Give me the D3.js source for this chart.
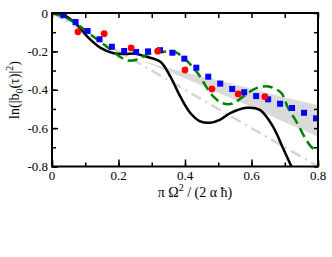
<!DOCTYPE html>
<html>
<head>
<meta charset="utf-8">
<script src="https://cdn.jsdelivr.net/npm/d3@7"></script>
<style>
  body { margin: 0; background: #fff; }
  svg { display: block; }
  text { font-family: "Liberation Serif", "Times New Roman", serif; fill: #000; }
</style>
</head>
<body>
<div id="chart"></div>
<script>
// x ticks / y ticks
var xTicks = [0, 0.2, 0.4, 0.6, 0.8];
var yTicks = [0, -0.2, -0.4, -0.6, -0.8];
var xTickLabels = ['0', '0.2', '0.4', '0.6', '0.8'];
var yTickLabels = ['0', '-0.2', '-0.4', '-0.6', '-0.8'];

// blue squares
var blueX = [0.035, 0.071, 0.107, 0.143, 0.180, 0.217, 0.253, 0.289, 0.325, 0.362, 0.398,
             0.434, 0.470, 0.506, 0.542, 0.578, 0.614, 0.650, 0.686, 0.722, 0.758, 0.794];
var blueY = [-0.012, -0.047, -0.094, -0.137, -0.176, -0.198, -0.203, -0.200, -0.194, -0.207, -0.238,
             -0.285, -0.332, -0.368, -0.396, -0.413, -0.433, -0.450, -0.473, -0.495, -0.520, -0.549];

// red circles
var redX = [0.078, 0.157, 0.238, 0.318, 0.400, 0.481, 0.560, 0.640];
var redY = [-0.098, -0.108, -0.182, -0.199, -0.297, -0.396, -0.422, -0.436];

// black solid curve
var blackX = [0, 0.035, 0.076, 0.11, 0.146, 0.185, 0.22, 0.25, 0.28, 0.326, 0.356, 0.386,
              0.416, 0.446, 0.476, 0.506, 0.536, 0.585, 0.625, 0.665, 0.695, 0.72];
var blackY = [0, -0.010, -0.063, -0.130, -0.182, -0.210, -0.214, -0.212, -0.226, -0.254, -0.332, -0.436,
              -0.521, -0.565, -0.572, -0.556, -0.522, -0.494, -0.505, -0.593, -0.705, -0.80];

// green dashed curve
var greenX = [0, 0.045, 0.085, 0.125, 0.165, 0.205, 0.23, 0.256, 0.29, 0.33, 0.37, 0.395, 0.425, 0.445,
              0.466, 0.485, 0.51, 0.54, 0.575, 0.605, 0.635, 0.66, 0.69, 0.71, 0.735, 0.755, 0.776, 0.797];
var greenY = [0, -0.028, -0.071, -0.124, -0.176, -0.229, -0.248, -0.242, -0.214, -0.203, -0.203, -0.232, -0.285, -0.33,
              -0.39, -0.435, -0.468, -0.473, -0.436, -0.399, -0.383, -0.387, -0.418, -0.495, -0.566, -0.632, -0.690, -0.725];

// light gray dash-dot line
var grayX = [0, 0.8];
var grayY = [0, -0.8];

// shaded band
var bandX = [0.27, 0.4, 0.5, 0.6, 0.7, 0.8];
var bandHi = [-0.25, -0.31, -0.35, -0.395, -0.44, -0.48];
var bandLo = [-0.25, -0.34, -0.415, -0.49, -0.57, -0.645];

var width = 332, height = 257;
var margin = { top: 13, right: 14, bottom: 90.5, left: 52 };
var plotW = width - margin.left - margin.right;
var plotH = height - margin.top - margin.bottom;

var svg = d3.select('#chart').append('svg')
    .attr('width', width)
    .attr('height', height);

var x = d3.scaleLinear().domain([0, 0.8]).range([0, plotW]);
var y = d3.scaleLinear().domain([0, -0.8]).range([0, plotH]);

var g = svg.append('g').attr('transform', 'translate(' + margin.left + ',' + margin.top + ')');

g.append('clipPath').attr('id', 'clip')
    .append('rect').attr('width', plotW).attr('height', plotH);

var plot = g.append('g').attr('clip-path', 'url(#clip)');

function zip(xs, ys) {
    return xs.map(function (d, i) { return [d, ys[i]]; });
}

// band
var band = bandX.map(function (d, i) { return { x: d, hi: bandHi[i], lo: bandLo[i] }; });
plot.append('path')
    .datum(band)
    .attr('fill', '#dadada')
    .attr('d', d3.area()
        .x(function (d) { return x(d.x); })
        .y0(function (d) { return y(d.lo); })
        .y1(function (d) { return y(d.hi); }));

var line = d3.line()
    .x(function (d) { return x(d[0]); })
    .y(function (d) { return y(d[1]); });
var smooth = d3.line()
    .x(function (d) { return x(d[0]); })
    .y(function (d) { return y(d[1]); })
    .curve(d3.curveCatmullRom.alpha(0.5));

plot.append('path').datum(zip(grayX, grayY))
    .attr('fill', 'none').attr('stroke', '#d4d4d4').attr('stroke-width', 2.5)
    .attr('stroke-dasharray', '11,5,2,5')
    .attr('d', line);

plot.append('path').datum(zip(blackX, blackY))
    .attr('fill', 'none').attr('stroke', '#000').attr('stroke-width', 2.5)
    .attr('d', smooth);

plot.append('path').datum(zip(greenX, greenY))
    .attr('fill', 'none').attr('stroke', '#008000').attr('stroke-width', 2.5)
    .attr('stroke-dasharray', '10,5')
    .attr('d', smooth);

g.selectAll('.sq').data(zip(blueX, blueY)).enter().append('rect')
    .attr('class', 'sq')
    .attr('x', function (d) { return x(d[0]) - 3; })
    .attr('y', function (d) { return y(d[1]) - 3; })
    .attr('width', 6).attr('height', 6)
    .attr('fill', '#0000ff');

g.selectAll('.dot').data(zip(redX, redY)).enter().append('circle')
    .attr('class', 'dot')
    .attr('cx', function (d) { return x(d[0]); })
    .attr('cy', function (d) { return y(d[1]); })
    .attr('r', 3.4)
    .attr('fill', '#ff0000');

// axes: ticks inward on all four sides
var xMinor = d3.range(0, 0.81, 0.1);
var yMinor = d3.range(0, -0.81, -0.1);

function tickAxis(axis, ticks) {
    return axis.tickValues(ticks).tickFormat('').tickSizeOuter(0);
}

g.append('g').attr('transform', 'translate(0,' + plotH + ')')
    .call(tickAxis(d3.axisBottom(x), xMinor).tickSizeInner(-4));
g.append('g').attr('transform', 'translate(0,' + plotH + ')')
    .call(tickAxis(d3.axisBottom(x), xTicks).tickSizeInner(-7));
g.append('g')
    .call(tickAxis(d3.axisTop(x), xMinor).tickSizeInner(-5));
g.append('g')
    .call(tickAxis(d3.axisLeft(y), yMinor).tickSizeInner(-4));
g.append('g')
    .call(tickAxis(d3.axisLeft(y), yTicks).tickSizeInner(-6));
g.append('g').attr('transform', 'translate(' + plotW + ',0)')
    .call(tickAxis(d3.axisRight(y), yMinor).tickSizeInner(-4));

g.selectAll('.tick line').attr('stroke', '#000').attr('stroke-width', 1.5);
g.selectAll('.domain').remove();

g.append('rect')
    .attr('width', plotW).attr('height', plotH)
    .attr('fill', 'none').attr('stroke', '#000').attr('stroke-width', 2);

// tick labels
g.selectAll('.xl').data(xTicks).enter().append('text')
    .attr('x', function (d) { return x(d); })
    .attr('y', plotH + 13)
    .attr('text-anchor', 'middle')
    .style('font-size', '13px')
    .text(function (d, i) { return xTickLabels[i]; });

g.selectAll('.yl').data(yTicks).enter().append('text')
    .attr('x', -4)
    .attr('y', function (d) { return y(d) + 4.5; })
    .attr('text-anchor', 'end')
    .style('font-size', '13px')
    .text(function (d, i) { return yTickLabels[i]; });

// axis titles
var xt = svg.append('text')
    .attr('x', 195).attr('y', 197)
    .attr('text-anchor', 'middle')
    .style('font-size', '14px');
xt.append('tspan').text('\u03c0 \u03a9');
xt.append('tspan').attr('dy', -6).style('font-size', '10px').text('2');
xt.append('tspan').attr('dy', 6).text(' / (2 \u03b1 \u0127)');

var yt = svg.append('text')
    .attr('transform', 'translate(19,90) rotate(-90)')
    .attr('text-anchor', 'middle')
    .style('font-size', '14px');
yt.append('tspan').text('ln(|b');
yt.append('tspan').attr('dy', 4).style('font-size', '10px').text('0');
yt.append('tspan').attr('dy', -4).text('(\u03c4)|');
yt.append('tspan').attr('dy', -6).style('font-size', '10px').text('2');
yt.append('tspan').attr('dy', 6).text(')');
</script>
</body>
</html>
